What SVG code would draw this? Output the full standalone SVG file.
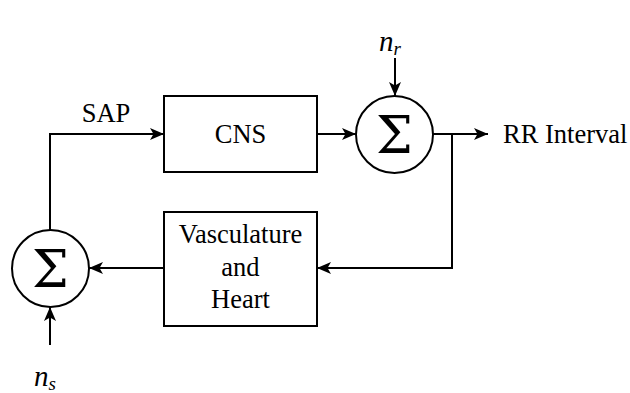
<svg xmlns="http://www.w3.org/2000/svg" width="630" height="393" viewBox="0 0 630 393">
<defs>
<style>
.box{fill:#fff;stroke:#000;stroke-width:2}
.ln{fill:none;stroke:#000;stroke-width:2}
.t{font-family:"Liberation Serif","Times New Roman",serif;font-size:26.5px;fill:#000}
.m{font-family:"Liberation Serif","Times New Roman",serif;font-style:italic;fill:#000}
.sig{font-family:"DejaVu Serif","Liberation Serif",serif;font-size:52px;fill:#000}
</style>
<marker id="ah" viewBox="0 0 14 12" refX="14" refY="6" markerWidth="14" markerHeight="12" markerUnits="userSpaceOnUse" orient="auto">
<path d="M0,0 L14,6 L0,12 L3.5,6 Z" fill="#000"/>
</marker>
</defs>
<rect width="630" height="393" fill="#fff"/>
<g id="connectors">
<path class="ln" d="M50,230 V134 H164" marker-end="url(#ah)"/>
<path class="ln" d="M317,134 H356" marker-end="url(#ah)"/>
<path class="ln" d="M395,58 V96" marker-end="url(#ah)"/>
<path class="ln" d="M433,134 H488" marker-end="url(#ah)"/>
<path class="ln" d="M452,134 V268 H317" marker-end="url(#ah)"/>
<path class="ln" d="M164,268 H89" marker-end="url(#ah)"/>
<path class="ln" d="M50,345 V307" marker-end="url(#ah)"/>
</g>
<g id="cns">
<rect class="box" x="164" y="96" width="153" height="76"/>
<text class="t" x="240.5" y="143" text-anchor="middle">CNS</text>
</g>
<g id="sum_top">
<circle class="box" cx="394.5" cy="134.5" r="38.5"/>
<text class="sig" x="394.5" y="153" text-anchor="middle">Σ</text>
</g>
<g id="vasc">
<rect class="box" x="164" y="212" width="153" height="114"/>
<text class="t" x="240.5" y="243" text-anchor="middle">Vasculature</text>
<text class="t" x="240.5" y="276" text-anchor="middle">and</text>
<text class="t" x="240.5" y="308" text-anchor="middle">Heart</text>
</g>
<g id="sum_bot">
<circle class="box" cx="50.5" cy="268.5" r="38.5"/>
<text class="sig" x="50.5" y="287" text-anchor="middle">Σ</text>
</g>
<g id="labels">
<text class="t" x="106" y="122" text-anchor="middle">SAP</text>
<text class="t" x="503" y="143">RR Interval</text>
<text class="m" x="379" y="51" font-size="29">n<tspan font-size="19" dy="4">r</tspan></text>
<text class="m" x="34" y="386" font-size="29">n<tspan font-size="19" dy="4">s</tspan></text>
</g>
</svg>
